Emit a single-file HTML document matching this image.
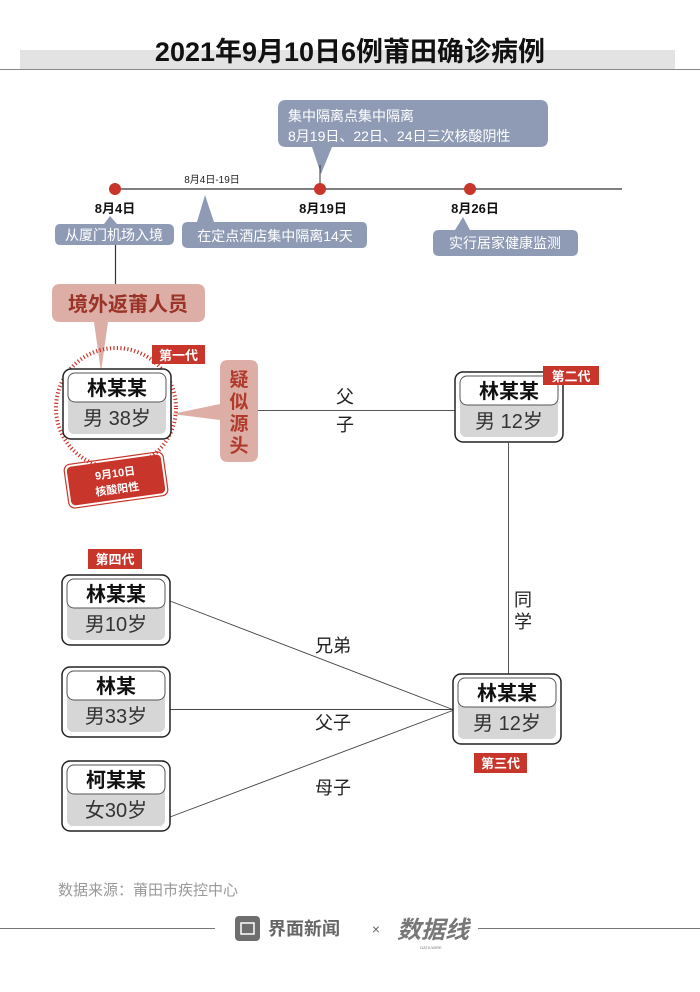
<!DOCTYPE html>
<html><head><meta charset="utf-8"><style>
html,body{margin:0;padding:0;background:#fff;}
svg{display:block;font-family:"Liberation Sans","Noto Sans CJK SC",sans-serif;}
</style></head><body>
<svg width="700" height="992" viewBox="0 0 700 992" xmlns="http://www.w3.org/2000/svg">
<rect width="700" height="992" fill="#fff"/>
<!-- title -->
<rect x="20" y="50" width="655" height="19" fill="#e3e3e3"/>
<line x1="0" y1="69.5" x2="700" y2="69.5" stroke="#888" stroke-width="1"/>
<text x="350" y="61" text-anchor="middle" font-size="27" font-weight="bold" fill="#111">2021年9月10日6例莆田确诊病例</text>

<!-- timeline -->
<line x1="115" y1="189" x2="622" y2="189" stroke="#333" stroke-width="1.2"/>
<text x="212" y="183" text-anchor="middle" font-size="10" fill="#222">8月4日-19日</text>
<!-- top bubble -->
<path d="M286,100 H540 Q548,100 548,108 V139 Q548,147 540,147 H332 L321,174 L312,147 H286 Q278,147 278,139 V108 Q278,100 286,100 Z" fill="#8f9bb5"/>
<line x1="320" y1="165" x2="320" y2="189" stroke="#333" stroke-width="1"/>
<text x="288" y="121" font-size="14" fill="#fff">集中隔离点集中隔离</text>
<text x="288" y="141" font-size="14" fill="#fff">8月19日、22日、24日三次核酸阴性</text>
<circle cx="115" cy="189" r="6" fill="#c8352a"/>
<circle cx="320" cy="189" r="6" fill="#c8352a"/>
<circle cx="470" cy="189" r="6" fill="#c8352a"/>
<text x="115" y="213" text-anchor="middle" font-size="13" font-weight="bold" fill="#111">8月4日</text>
<text x="323" y="213" text-anchor="middle" font-size="13" font-weight="bold" fill="#111">8月19日</text>
<text x="475" y="213" text-anchor="middle" font-size="13" font-weight="bold" fill="#111">8月26日</text>
<!-- bottom bubbles -->
<path d="M60,224 H104 L110,216 L117,224 H168 Q174,224 174,230 V239 Q174,245 168,245 H60 Q55,245 55,239 V230 Q55,224 60,224 Z" fill="#8f9bb5"/>
<text x="114" y="240" text-anchor="middle" font-size="14" fill="#fff">从厦门机场入境</text>
<path d="M188,222 H197 L205,195 L214,222 H362 Q367,222 367,228 V242 Q367,248 362,248 H188 Q182,248 182,242 V228 Q182,222 188,222 Z" fill="#8f9bb5"/>
<text x="275" y="241" text-anchor="middle" font-size="14" fill="#fff">在定点酒店集中隔离14天</text>
<path d="M439,230 H455 L463,217 L470,230 H572 Q578,230 578,236 V250 Q578,256 572,256 H439 Q433,256 433,250 V236 Q433,230 439,230 Z" fill="#8f9bb5"/>
<text x="505" y="248" text-anchor="middle" font-size="14" fill="#fff">实行居家健康监测</text>

<line x1="115.5" y1="245" x2="115.5" y2="285" stroke="#333" stroke-width="1.2"/>
<!-- 境外返莆人员 -->
<path d="M60,284 H197 Q205,284 205,292 V314 Q205,322 197,322 H108 L101,372 L94,322 H60 Q52,322 52,314 V292 Q52,284 60,284 Z" fill="#dcaea6"/>
<text x="128" y="311" text-anchor="middle" font-size="20" font-weight="bold" fill="#9a3328">境外返莆人员</text>

<!-- dotted circle -->
<circle cx="116" cy="408" r="60" fill="none" stroke="#c8352a" stroke-width="4" stroke-dasharray="1.2 2.3"/>
<!-- 疑似源头 -->
<path d="M228,360 H250 Q258,360 258,368 V454 Q258,462 250,462 H228 Q220,462 220,454 V420 L172,414 L220,404 V368 Q220,360 228,360 Z" fill="#dcaea6"/>
<g font-size="19" font-weight="bold" fill="#b03a2b" text-anchor="middle">
<text x="239" y="386">疑</text><text x="239" y="408">似</text><text x="239" y="430">源</text><text x="239" y="452">头</text>
</g>

<!-- connectors -->
<line x1="258" y1="410.5" x2="456" y2="410.5" stroke="#555" stroke-width="1"/>
<text x="345" y="403" text-anchor="middle" font-size="18" fill="#222">父</text>
<text x="345" y="431" text-anchor="middle" font-size="18" fill="#222">子</text>
<line x1="508.5" y1="443" x2="508.5" y2="675" stroke="#555" stroke-width="1"/>
<text x="523" y="606" text-anchor="middle" font-size="18" fill="#222">同</text>
<text x="523" y="628" text-anchor="middle" font-size="18" fill="#222">学</text>
<line x1="170" y1="601" x2="454" y2="710" stroke="#444" stroke-width="0.9"/>
<line x1="170" y1="709.5" x2="454" y2="709.5" stroke="#444" stroke-width="0.9"/>
<line x1="170" y1="817" x2="454" y2="710" stroke="#444" stroke-width="0.9"/>
<text x="333" y="652" text-anchor="middle" font-size="18" fill="#222">兄弟</text>
<text x="333" y="729" text-anchor="middle" font-size="18" fill="#222">父子</text>
<text x="333" y="794" text-anchor="middle" font-size="18" fill="#222">母子</text>

<!-- nodes -->
<defs>
<g id="nb">
<rect x="0" y="0" width="108" height="70" rx="8" fill="#fff" stroke="#222" stroke-width="1.5"/>
<rect x="5" y="5" width="98" height="60" rx="6" fill="#d6d6d6"/>
<rect x="5" y="4" width="98" height="29" rx="7" fill="#fff" stroke="#555" stroke-width="1"/>
</g>
</defs>
<g transform="translate(63,369)"><use href="#nb"/><text x="54" y="26" text-anchor="middle" font-size="20" font-weight="bold" fill="#111">林某某</text><text x="54" y="56" text-anchor="middle" font-size="20" fill="#333">男 38岁</text></g>
<g transform="translate(455,372)"><use href="#nb"/><text x="54" y="26" text-anchor="middle" font-size="20" font-weight="bold" fill="#111">林某某</text><text x="54" y="56" text-anchor="middle" font-size="20" fill="#333">男 12岁</text></g>
<g transform="translate(453,674)"><use href="#nb"/><text x="54" y="26" text-anchor="middle" font-size="20" font-weight="bold" fill="#111">林某某</text><text x="54" y="56" text-anchor="middle" font-size="20" fill="#333">男 12岁</text></g>
<g transform="translate(62,575)"><use href="#nb"/><text x="54" y="26" text-anchor="middle" font-size="20" font-weight="bold" fill="#111">林某某</text><text x="54" y="56" text-anchor="middle" font-size="20" fill="#333">男10岁</text></g>
<g transform="translate(62,667)"><use href="#nb"/><text x="54" y="26" text-anchor="middle" font-size="20" font-weight="bold" fill="#111">林某</text><text x="54" y="56" text-anchor="middle" font-size="20" fill="#333">男33岁</text></g>
<g transform="translate(62,761)"><use href="#nb"/><text x="54" y="26" text-anchor="middle" font-size="20" font-weight="bold" fill="#111">柯某某</text><text x="54" y="56" text-anchor="middle" font-size="20" fill="#333">女30岁</text></g>

<!-- generation labels -->
<rect x="152" y="345" width="53" height="19" fill="#c8352a"/>
<text x="178.5" y="360" text-anchor="middle" font-size="13" font-weight="bold" fill="#fff">第一代</text>
<rect x="543" y="366" width="56" height="19" fill="#c8352a"/>
<text x="571" y="381" text-anchor="middle" font-size="13" font-weight="bold" fill="#fff">第二代</text>
<rect x="474" y="753" width="53" height="20" fill="#c8352a"/>
<text x="500.5" y="768" text-anchor="middle" font-size="13" font-weight="bold" fill="#fff">第三代</text>
<rect x="88" y="549" width="54" height="20" fill="#c8352a"/>
<text x="115" y="564" text-anchor="middle" font-size="13" font-weight="bold" fill="#fff">第四代</text>

<!-- 9月10日 核酸阳性 -->
<g transform="rotate(-8 116 480)">
<rect x="69" y="461" width="94" height="38" rx="4" fill="#c8352a" stroke="#c8352a" stroke-width="1"/>
<rect x="66" y="458" width="100" height="44" rx="6" fill="none" stroke="#c8352a" stroke-width="1.2"/>
<text x="116" y="477" text-anchor="middle" font-size="11" font-weight="bold" fill="#fff">9月10日</text>
<text x="116" y="493" text-anchor="middle" font-size="11" font-weight="bold" fill="#fff">核酸阳性</text>
</g>

<!-- footer -->
<text x="58" y="895" font-size="15" fill="#999">数据来源：莆田市疾控中心</text>
<line x1="0" y1="928.5" x2="215" y2="928.5" stroke="#777" stroke-width="1"/>
<line x1="478" y1="928.5" x2="700" y2="928.5" stroke="#777" stroke-width="1"/>
<rect x="235" y="916" width="25" height="25" rx="4" fill="#6e6e6e"/>
<rect x="241" y="923" width="13" height="11" fill="none" stroke="#fff" stroke-width="1.5"/>
<text x="268" y="935" font-size="18" font-weight="bold" fill="#666">界面新闻</text>
<text x="376" y="934" text-anchor="middle" font-size="14" fill="#666">×</text>
<text x="433" y="938" text-anchor="middle" font-size="24" font-weight="bold" fill="#777" font-style="italic">数据线</text>
<text x="431" y="949" text-anchor="middle" font-size="4" fill="#777">DATA WIRE</text>
</svg>
</body></html>
